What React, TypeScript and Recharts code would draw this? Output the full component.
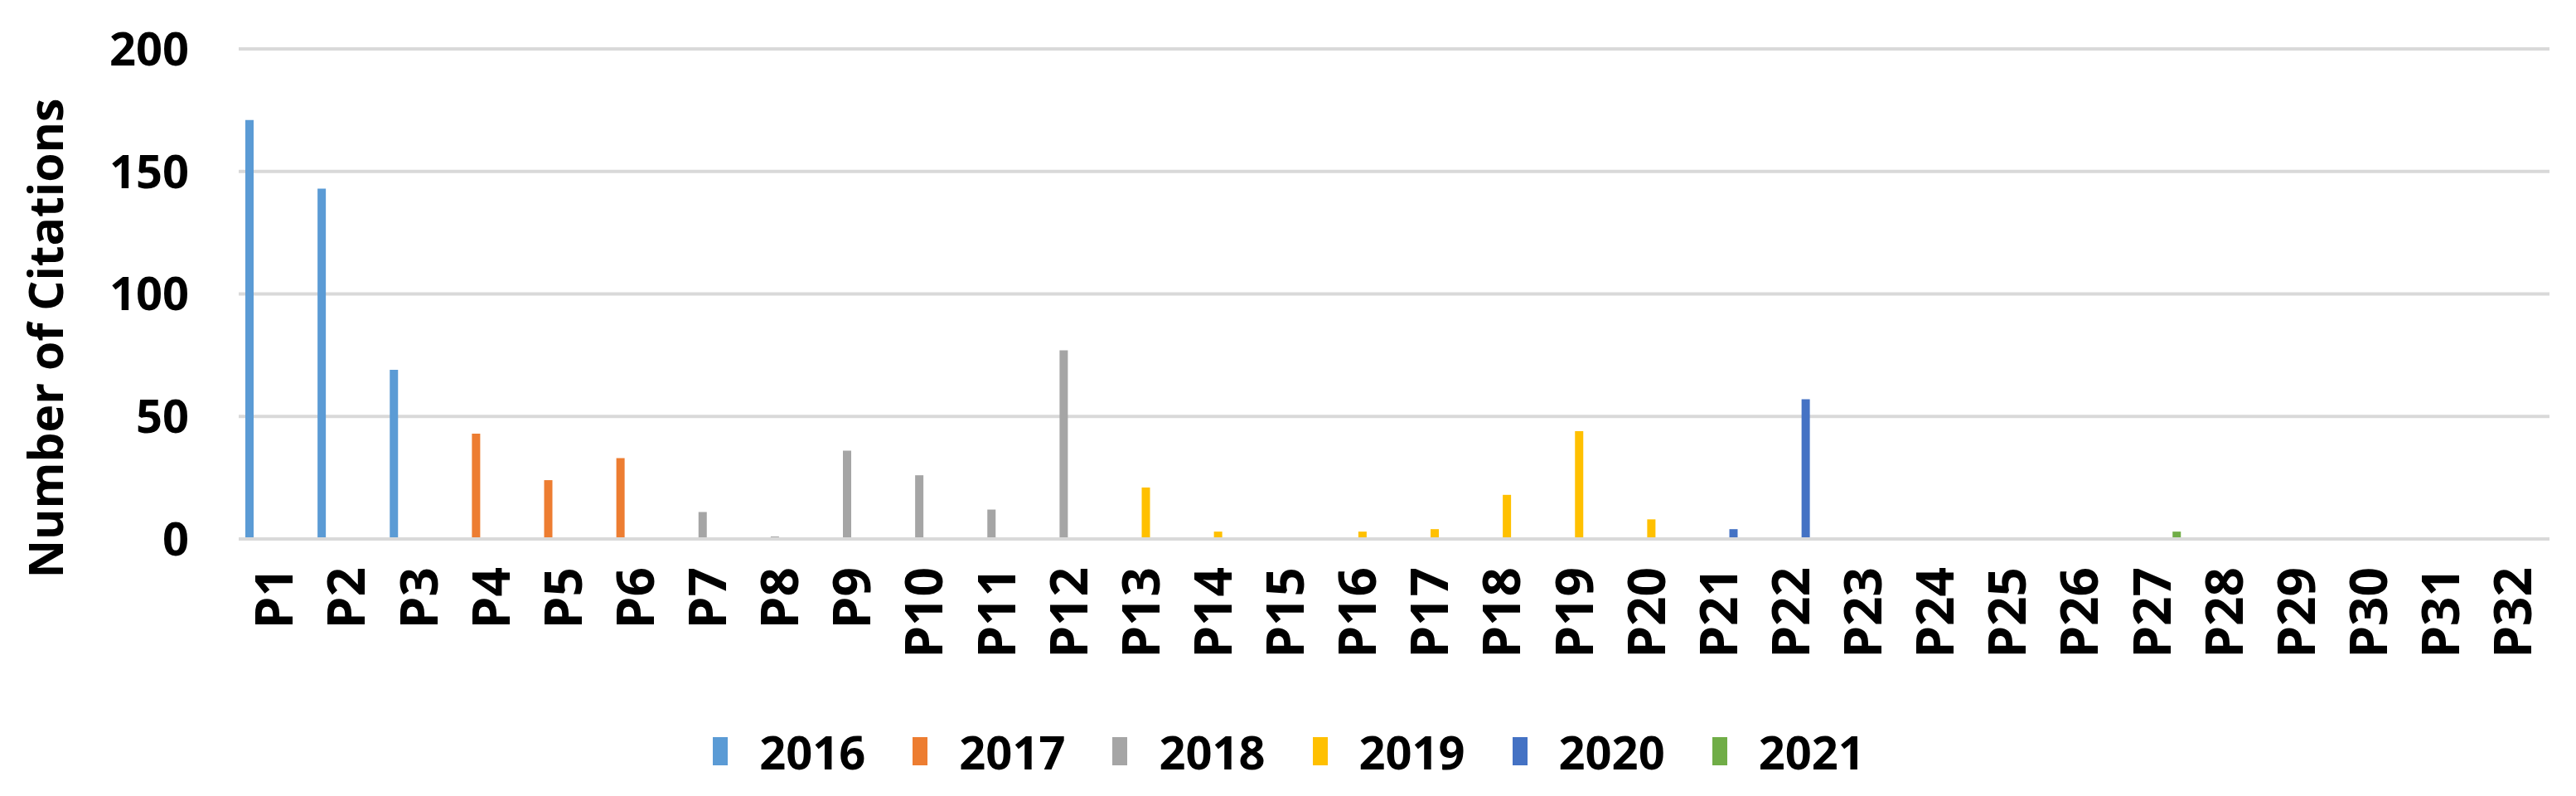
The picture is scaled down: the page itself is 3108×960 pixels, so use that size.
import { BarChart, Bar, XAxis, YAxis, CartesianGrid, Legend } from 'recharts'

const papers = [
  'P1', 'P2', 'P3', 'P4', 'P5', 'P6', 'P7', 'P8', 'P9', 'P10', 'P11',
  'P12', 'P13', 'P14', 'P15', 'P16', 'P17', 'P18', 'P19', 'P20', 'P21',
  'P22', 'P23', 'P24', 'P25', 'P26', 'P27', 'P28', 'P29', 'P30', 'P31', 'P32',
]

// publication year of each paper (decides which series / colour it goes in)
const paperYear = [
  2016, 2016, 2016, 2017, 2017, 2017, 2018, 2018, 2018, 2018, 2018,
  2018, 2019, 2019, 2019, 2019, 2019, 2019, 2019, 2019, 2020,
  2020, 2020, 2020, 2020, 2021, 2021, 2021, 2021, 2021, 2021, 2021,
]

// citations (null = nothing drawn)
const citations = [
  171, 143, 69, 43, 24, 33, 11, 1, 36, 26, 12,
  77, 21, 3, 0.5, 3, 4, 18, 44, 8, 4,
  57, null, 0.5, 0.5, null, 3, null, null, 0.5, 0.5, 0.5,
]

const years = ['2016', '2017', '2018', '2019', '2020', '2021']
const yearColors = ['#5B9BD5', '#ED7D31', '#A5A5A5', '#FFC000', '#4472C4', '#70AD47']
const yTicks = [0, 50, 100, 150, 200]

const FONT = "'Open Sans', sans-serif"

const rows = papers.map((p, i) => ({ name: p, [String(paperYear[i])]: citations[i] }))

function XTick(props: any) {
  const { x, y, payload } = props
  const ty = y + 34
  return (
    <text
      x={x}
      y={ty}
      transform={`rotate(-90, ${x}, ${ty})`}
      textAnchor="end"
      dy="0.35em"
      fill="#000"
      fontSize={62}
      fontWeight={700}
      fontFamily={FONT}
    >
      {payload.value}
    </text>
  )
}

function YTitle() {
  return (
    <text
      x={56}
      y={408}
      transform="rotate(-90, 56, 408)"
      textAnchor="middle"
      dy="0.35em"
      fill="#000"
      fontSize={57}
      fontWeight={700}
      fontFamily={FONT}
    >
      Number of Citations
    </text>
  )
}

function LegendContent() {
  return (
    <div style={{ display: 'flex', justifyContent: 'center', alignItems: 'center', height: 60, paddingLeft: 34 }}>
      {years.map((y, i) => (
        <div key={y} style={{ display: 'flex', alignItems: 'center', marginRight: i < years.length - 1 ? 57 : 0 }}>
          <div style={{ width: 18, height: 34, background: yearColors[i], marginRight: 38 }} />
          <span style={{ fontFamily: FONT, fontWeight: 700, fontSize: 56, color: '#000', lineHeight: 1 }}>{y}</span>
        </div>
      ))}
    </div>
  )
}

export default function App() {
  return (
    <div style={{ position: 'absolute', left: 0, top: 0, background: '#fff' }}>
      <BarChart
        width={3108}
        height={960}
        data={rows}
        margin={{ top: 59, right: 32, bottom: 0, left: 0 }}
        barCategoryGap={8}
        barGap={2}
      >
        <CartesianGrid vertical={false} stroke="#D9D9D9" strokeWidth={4} />
        <XAxis
          dataKey="name"
          interval={0}
          height={250}
          tickLine={false}
          tickSize={0}
          tickMargin={0}
          axisLine={{ stroke: '#D9D9D9', strokeWidth: 4 }}
          tick={<XTick />}
        />
        <YAxis
          domain={[0, 200]}
          ticks={yTicks}
          width={288}
          axisLine={false}
          tickLine={false}
          tickSize={0}
          tickMargin={60}
          tick={{ fill: '#000', fontSize: 56, fontWeight: 700, fontFamily: FONT }}
          label={<YTitle />}
        />
        <Legend verticalAlign="bottom" content={<LegendContent />} wrapperStyle={{ bottom: 24 }} />
        {years.map((y, i) => (
          <Bar key={y} dataKey={y} name={y} fill={yearColors[i]} isAnimationActive={false} />
        ))}
      </BarChart>
    </div>
  )
}
